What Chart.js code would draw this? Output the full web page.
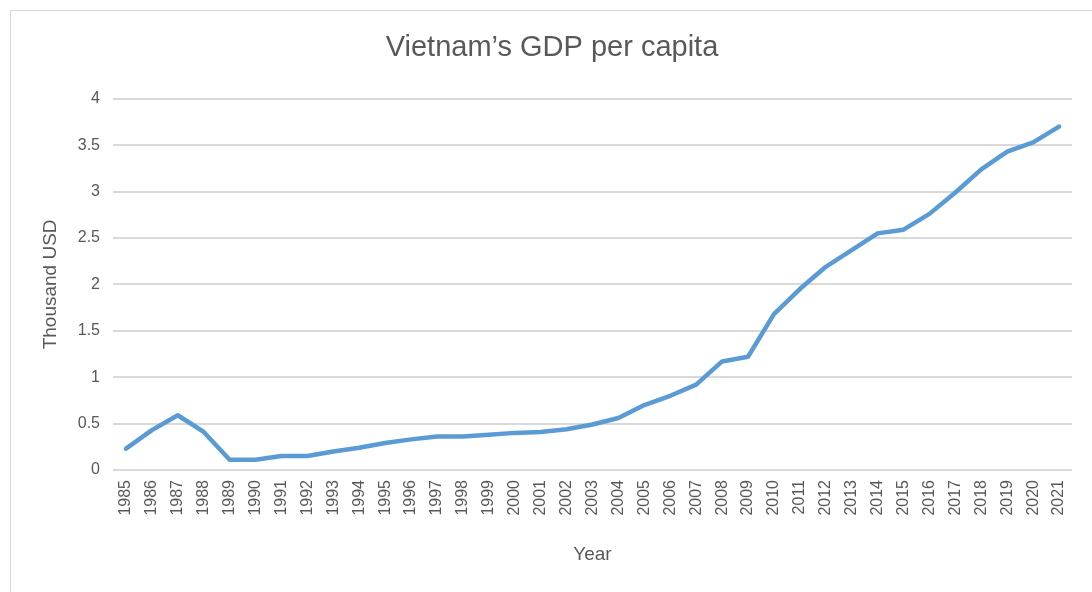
<!DOCTYPE html>
<html>
<head>
<meta charset="utf-8">
<script src="https://cdn.jsdelivr.net/npm/chart.js@4/dist/chart.umd.min.js"></script>
<style>
  html, body { margin: 0; padding: 0; background: #fff; }
  #wrap { position: relative; width: 1092px; height: 592px; overflow: hidden; }
  #frame {
    position: absolute; left: 10px; top: 10px; width: 1200px; height: 700px;
    border-left: 1px solid #d9d9d9; border-top: 1px solid #d9d9d9;
  }
  #gdp { position: absolute; left: 0; top: 0; }
</style>
</head>
<body>
<div id="wrap">
  <div id="frame"></div>
  <canvas id="gdp" width="1092" height="592"></canvas>
</div>
<script>
// Vietnam GDP per capita, thousand USD
const years = [
  '1985', '1986', '1987', '1988', '1989', '1990', '1991', '1992', '1993', '1994',
  '1995', '1996', '1997', '1998', '1999', '2000', '2001', '2002', '2003', '2004',
  '2005', '2006', '2007', '2008', '2009', '2010', '2011', '2012', '2013', '2014',
  '2015', '2016', '2017', '2018', '2019', '2020', '2021'
];
const gdpPerCapita = [
  0.23, 0.43, 0.59, 0.41, 0.11, 0.11, 0.15, 0.15, 0.20, 0.24,
  0.29, 0.33, 0.36, 0.36, 0.38, 0.40, 0.41, 0.44, 0.49, 0.56,
  0.70, 0.80, 0.92, 1.17, 1.22, 1.68, 1.95, 2.19, 2.37, 2.55,
  2.59, 2.76, 2.99, 3.24, 3.43, 3.53, 3.70
];
const yTicks = [0, 0.5, 1, 1.5, 2, 2.5, 3, 3.5, 4];

const textColor = '#595959';
const gridColor = '#d9d9d9';
const lineColor = '#5b9bd5';

new Chart(document.getElementById('gdp'), {
  type: 'line',
  data: {
    labels: years,
    datasets: [{
      data: gdpPerCapita,
      borderColor: lineColor,
      borderWidth: 4.5,
      pointRadius: 0,
      tension: 0,
      fill: false,
      borderCapStyle: 'round',
      borderJoinStyle: 'round',
    }],
  },
  options: {
    responsive: false,
    animation: false,
    // uneven side padding so the title centres where the reference has it
    layout: { padding: { left: 32, right: 20, top: 0, bottom: 0 } },
    plugins: {
      legend: { display: false },
      tooltip: { enabled: false },
      title: {
        display: true,
        text: 'Vietnam’s GDP per capita',
        color: textColor,
        font: { family: '"Liberation Sans", sans-serif', size: 29, weight: 'normal' },
        padding: { top: 31, bottom: 33 },
      },
    },
    scales: {
      x: {
        offset: true,
        grid: { display: false },
        border: { display: false },
        ticks: {
          color: textColor,
          font: { family: '"Liberation Sans", sans-serif', size: 16 },
          minRotation: 90,
          maxRotation: 90,
          autoSkip: false,
          padding: 2,
        },
        title: {
          display: true,
          text: 'Year',
          color: textColor,
          font: { family: '"Liberation Sans", sans-serif', size: 19 },
          padding: { top: 0, bottom: 26 },
        },
        afterFit: (scale) => { scale.height = 122; },
      },
      y: {
        min: 0,
        max: 4,
        afterBuildTicks: (scale) => { scale.ticks = yTicks.map(v => ({ value: v })); },
        grid: { color: gridColor, lineWidth: 2, drawTicks: false },
        border: { display: false },
        ticks: {
          color: textColor,
          font: { family: '"Liberation Sans", sans-serif', size: 16 },
          padding: 13,
          callback: (value) => String(value),
        },
        title: {
          display: true,
          text: 'Thousand USD',
          color: textColor,
          font: { family: '"Liberation Sans", sans-serif', size: 19 },
          padding: { top: 7, bottom: 0 },
        },
        afterFit: (scale) => { scale.width = 81; },
      },
    },
  },
});
</script>
</body>
</html>
